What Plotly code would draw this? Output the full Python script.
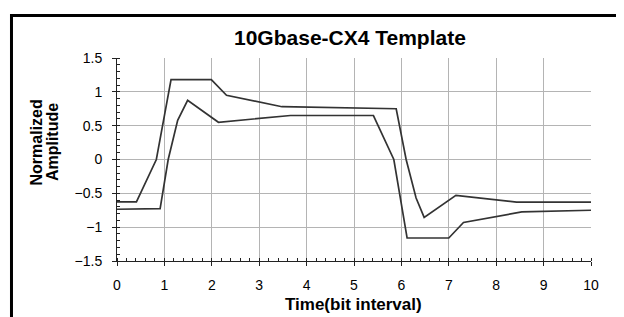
import plotly.graph_objects as go

# Upper template boundary
upper_x = [0, 0.41, 0.83, 1.14, 1.99, 2.31, 3.48, 5.89, 6.10, 6.31, 6.48, 7.15, 8.43, 10]
upper_y = [-0.625, -0.625, 0.0, 1.18, 1.18, 0.95, 0.78, 0.75, 0.0, -0.57, -0.855, -0.53, -0.63, -0.63]

# Lower template boundary
lower_x = [0, 0.91, 1.08, 1.28, 1.49, 2.14, 3.66, 5.41, 5.84, 6.12, 7.0, 7.31, 8.54, 10]
lower_y = [-0.735, -0.725, 0.0, 0.58, 0.875, 0.55, 0.65, 0.65, 0.0, -1.16, -1.16, -0.93, -0.775, -0.75]

title_text = "10Gbase-CX4 Template"
x_title = "Time(bit interval)"
y_title_lines = ["Normalized", "Amplitude"]

line_color = "#333333"
font_family = "Liberation Sans, Arial, sans-serif"

fig = go.Figure()
fig.add_trace(go.Scatter(x=upper_x, y=upper_y, mode="lines",
                         line=dict(color=line_color, width=1.7), showlegend=False))
fig.add_trace(go.Scatter(x=lower_x, y=lower_y, mode="lines",
                         line=dict(color=line_color, width=1.7), showlegend=False))

axis_common = dict(
    showgrid=True, gridcolor="#b4b4b4", gridwidth=1,
    zeroline=False, showline=True, linecolor="#222222", linewidth=1,
    ticks="outside", ticklen=4, tickcolor="#222222",
    ticklabelstandoff=7,
    tickfont=dict(family=font_family, size=14, color="#000000"),
)

fig.update_xaxes(range=[0, 10], dtick=1, tick0=0,
                 minor=dict(dtick=0.2, ticks="inside", ticklen=3, tickcolor="#222222", showgrid=False),
                 **axis_common)
fig.update_yaxes(range=[-1.5, 1.5], dtick=0.5, tick0=0,
                 minor=dict(dtick=0.1, ticks="inside", ticklen=3, tickcolor="#222222", showgrid=False),
                 **axis_common)

annotations = [
    dict(text="<b>" + title_text + "</b>", xref="paper", yref="paper",
         x=0.4926, y=1.103, xanchor="center", yanchor="middle",
         showarrow=False, font=dict(size=21, family=font_family)),
    dict(text="<b>" + x_title + "</b>", xref="paper", yref="paper",
         x=0.498, y=-0.212, xanchor="center", yanchor="middle",
         showarrow=False, font=dict(size=17, family=font_family)),
]
for xpos, line in zip([-0.170, -0.137], y_title_lines):
    annotations.append(dict(text="<b>" + line + "</b>", xref="paper", yref="paper",
                            x=xpos, y=0.586, xanchor="center", yanchor="middle", textangle=-90,
                            showarrow=False, font=dict(size=16, family=font_family)))

fig.update_layout(
    width=624, height=317,
    margin=dict(l=109, r=41, t=50, b=64),
    paper_bgcolor="white", plot_bgcolor="white",
    font=dict(family=font_family, color="#000000"),
    showlegend=False,
    annotations=annotations,
    shapes=[
        dict(type="rect", xref="paper", yref="paper",
             x0=-0.2226, x1=1.0633, y0=-0.4, y1=1.209,
             line=dict(color="black", width=3), fillcolor="rgba(0,0,0,0)", layer="below"),
    ],
)

fig.write_html("out.html")
